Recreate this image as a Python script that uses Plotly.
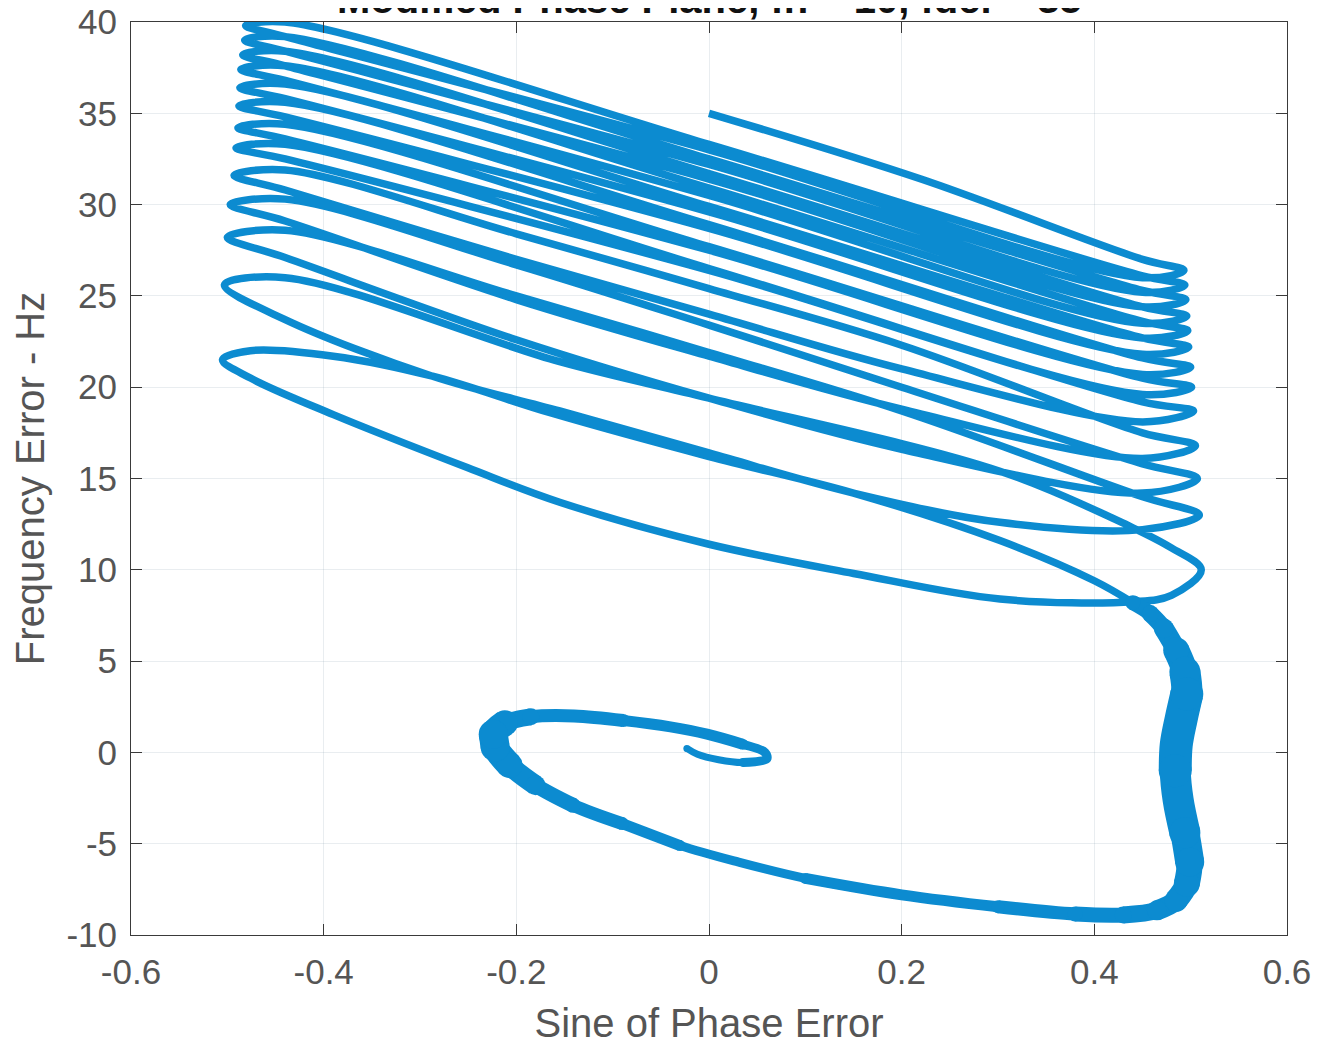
import plotly.graph_objects as go

BLUE = "rgb(12,139,208)"

# ---- upper slipping trajectory: points, in time order ----
traj_x = [
    0.000, 0.220, 0.450, 0.493,
    0.450, 0.000, -0.440, -0.481,
    -0.440, 0.000, 0.450, 0.494,
    0.450, 0.000, -0.440, -0.482,
    -0.440, 0.000, 0.450, 0.495,
    0.450, 0.000, -0.440, -0.484,
    -0.440, 0.000, 0.450, 0.496,
    0.450, 0.000, -0.440, -0.486,
    -0.440, 0.000, 0.450, 0.497,
    0.450, 0.000, -0.440, -0.487,
    -0.440, 0.000, 0.450, 0.498,
    0.450, 0.000, -0.440, -0.488,
    -0.440, 0.000, 0.450, 0.500,
    0.450, 0.000, -0.440, -0.489,
    -0.440, 0.000, 0.450, 0.501,
    0.450, 0.000, -0.440, -0.491,
    -0.440, 0.000, 0.450, 0.503,
    0.450, 0.200, 0.000, -0.200, -0.440, -0.493,
    -0.440, -0.200, 0.000, 0.200, 0.450, 0.505,
    0.450, 0.200, 0.000, -0.200, -0.440, -0.497,
    -0.440, -0.200, 0.000, 0.200, 0.450, 0.507,
    0.450, 0.200, 0.000, -0.200, -0.440, -0.500,
    -0.440, -0.200, 0.000, 0.200, 0.450, 0.509,
    0.450, 0.302, 0.150, 0.000, -0.155, -0.287, -0.440, -0.503,
    -0.440, -0.155, 0.000, 0.302, 0.440, 0.480, 0.511,
    0.480, 0.440, 0.302, 0.150, 0.000, -0.155, -0.251, -0.390, -0.476, -0.505,
    -0.476, -0.390, -0.287, -0.165, 0.000, 0.150, 0.302, 0.400, 0.440,
]
traj_y = [
    35.0, 31.4, 27.0, 26.4,
    26.0, 33.0, 39.2, 39.8,
    40.0, 33.3, 26.1, 25.6,
    25.2, 32.2, 38.4, 39.0,
    39.2, 32.5, 25.3, 24.8,
    24.4, 31.4, 37.6, 38.2,
    38.4, 31.7, 24.4, 23.9,
    23.5, 30.5, 36.8, 37.4,
    37.6, 30.9, 23.6, 23.1,
    22.7, 29.6, 35.8, 36.4,
    36.6, 29.9, 22.7, 22.2,
    21.8, 28.7, 34.8, 35.4,
    35.6, 28.9, 21.6, 21.1,
    20.7, 27.5, 33.6, 34.2,
    34.4, 27.7, 20.5, 20.0,
    19.6, 26.4, 32.5, 33.1,
    33.3, 26.5, 19.2, 18.7,
    18.1, 21.0, 24.0, 27.0, 30.8, 31.6,
    31.9, 28.4, 25.4, 22.3, 17.5, 16.8,
    16.1, 18.8, 21.7, 24.8, 29.1, 30.0,
    30.3, 26.7, 23.4, 20.0, 15.8, 15.0,
    14.2, 16.6, 19.4, 22.6, 27.1, 28.2,
    28.6, 25.0, 21.9, 18.7, 14.0, 13.0,
    12.2, 12.6, 14.2, 16.4, 18.7, 20.6, 23.7, 25.6,
    26.0, 21.4, 19.4, 15.4, 12.3, 11.2, 10.0,
    8.6, 8.25, 8.4, 9.8, 11.4, 13.7, 15.6, 18.5, 20.5, 21.5,
    22.0, 21.7, 20.6, 18.6, 16.2, 14.2, 11.6, 9.4, 8.2,
]

# ---- final capture: S-curve, bottom loop and inward spiral (band centre) ----
band_x = [0.440, 0.458, 0.472, 0.485, 0.494, 0.496, 0.490, 0.485, 0.484, 0.487,
          0.494, 0.499, 0.496, 0.485, 0.465, 0.430, 0.380, 0.300, 0.200, 0.100,
          0.030, -0.030, -0.090, -0.141, -0.180, -0.207, -0.222, -0.224, -0.212, -0.185,
          -0.140, -0.089, -0.040, -0.002, 0.035, 0.058, 0.060, 0.035, 0.010, -0.012,
          -0.023]
band_y = [8.2, 7.6, 6.8, 5.6, 4.4, 3.2, 1.8, 0.4, -1.0, -2.6,
          -4.4, -6.0, -7.2, -8.1, -8.65, -8.9, -8.85, -8.45, -7.8, -6.9,
          -6.0, -5.1, -3.9, -2.9, -1.8, -0.7, 0.3, 1.0, 1.6, 1.95,
          2.0, 1.75, 1.4, 1.0, 0.45, 0.0, -0.35, -0.55, -0.4, -0.1,
          0.22]

# style: visible thickness (px) of the band between consecutive band points
band_widths = [15, 18, 22, 27, 31, 33, 33, 33, 32, 31,
               30, 28, 24, 20, 17, 16, 14, 12, 11, 10,
               10, 11, 13, 16, 21, 27, 30, 26, 19, 14,
               13, 12, 11, 11, 10, 10, 9, 8, 7, 7]
width_levels = [7, 9, 11, 13, 15, 17, 20, 23, 26, 29, 31, 33]

x_ticks = [-0.6, -0.4, -0.2, 0, 0.2, 0.4, 0.6]
x_tick_labels = ["-0.6", "-0.4", "-0.2", "0", "0.2", "0.4", "0.6"]
y_ticks = [-10, -5, 0, 5, 10, 15, 20, 25, 30, 35, 40]
y_tick_labels = ["-10", "-5", "0", "5", "10", "15", "20", "25", "30", "35", "40"]

fig = go.Figure()
fig.add_trace(go.Scatter(x=traj_x, y=traj_y, mode="lines",
                         line=dict(color=BLUE, width=7.5, shape="spline", smoothing=1.0),
                         showlegend=False, hoverinfo="skip"))

# band: nested smooth strokes, each covering the run of pieces at least that thick,
# with round discs at the run ends so the thickness changes are not stepped
for lev in width_levels:
    runs, start = [], None
    for i, w in enumerate(band_widths + [0]):
        if w >= lev and start is None:
            start = i
        elif w < lev and start is not None:
            runs.append((start, i))
            start = None
    for i0, i1 in runs:
        fig.add_trace(go.Scatter(x=band_x[i0:i1 + 1], y=band_y[i0:i1 + 1], mode="lines",
                                 line=dict(color=BLUE, width=lev, shape="spline", smoothing=1.0),
                                 showlegend=False, hoverinfo="skip"))
        fig.add_trace(go.Scatter(x=[band_x[i0], band_x[i1]], y=[band_y[i0], band_y[i1]],
                                 mode="markers",
                                 marker=dict(color=BLUE, size=lev, line=dict(width=0)),
                                 showlegend=False, hoverinfo="skip"))

FONT = "Liberation Sans, Arial, sans-serif"
axis_common = dict(
    ticks="inside", ticklen=11, tickwidth=1, tickcolor="#3a3a3a",
    showline=True, linecolor="#3a3a3a", linewidth=1, mirror="allticks",
    showgrid=True, gridcolor="rgba(120,140,160,0.16)", gridwidth=1,
    zeroline=False, automargin=False, ticklabeloverflow="allow",
    ticklabelstandoff=6,
    tickfont=dict(family=FONT, size=35, color="#555555"),
)
fig.update_layout(
    width=1328, height=1047, autosize=False,
    margin=dict(l=123, r=49, t=14, b=120),
    paper_bgcolor="white", plot_bgcolor="white",
    xaxis=dict(range=[-0.6, 0.6], tickvals=x_ticks, ticktext=x_tick_labels,
               title=dict(text="Sine of Phase Error", font=dict(family=FONT, size=40, color="#555555"),
                          standoff=18),
               **axis_common),
    yaxis=dict(range=[-10, 40], tickvals=y_ticks, ticktext=y_tick_labels,
               title=dict(text="Frequency Error - Hz", font=dict(family=FONT, size=40, color="#555555"),
                          standoff=16),
               **axis_common),
    annotations=[dict(text="<b>Modified Phase Plane, fn = 10, fdel = 35</b>",
                      x=0.5, xref="paper", y=1.025, yref="paper",
                      xanchor="center", yanchor="middle", showarrow=False,
                      font=dict(family=FONT, size=40, color="#111111"))],
)
fig.write_html("out.html")
